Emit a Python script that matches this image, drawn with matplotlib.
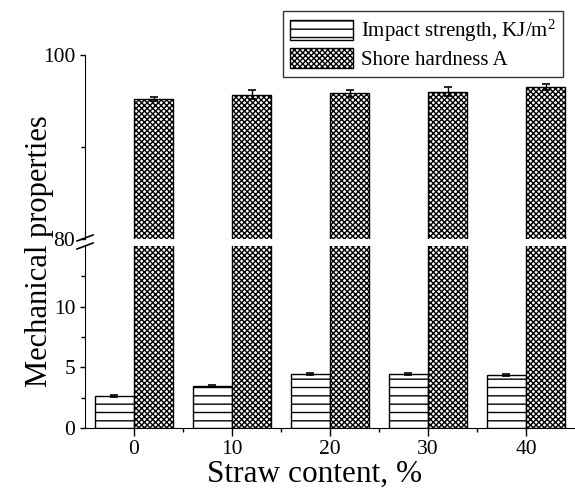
import matplotlib
matplotlib.use("Agg")
import matplotlib.pyplot as plt
from matplotlib.patches import Patch
from matplotlib.lines import Line2D
import numpy as np

plt.rcParams['font.family'] = ['Liberation Serif', 'DejaVu Serif']
plt.rcParams['mathtext.fontset'] = 'custom'
plt.rcParams['mathtext.rm'] = 'Liberation Serif'
plt.rcParams['mathtext.it'] = 'Liberation Serif'
plt.rcParams['hatch.linewidth'] = 1.0

# data
straw = [0, 10, 20, 30, 40]
impact = [2.62, 3.47, 4.42, 4.45, 4.40]
impact_err = [0.08, 0.08, 0.08, 0.08, 0.08]
shore = [95.2, 95.7, 95.85, 96.0, 96.55]
shore_err = [0.2, 0.5, 0.4, 0.5, 0.3]

labels = ['Impact strength, KJ/m$^2$', 'Shore hardness A']

W, H = 575, 493
fig = plt.figure(figsize=(W / 100, H / 100), dpi=100)

left = 85 / W
right = 575 / W
ax_lo = fig.add_axes([left, 1 - 428 / H, right - left, (428 - 246) / H])
ax_hi = fig.add_axes([left, 1 - 239 / H, right - left, (239 - 55) / H])

x = np.array(straw)
bw = 4

def draw(ax):
    ax.bar(x - bw / 2, impact, bw, yerr=impact_err, color='white', edgecolor='black',
           hatch='--', linewidth=1, capsize=3, error_kw=dict(elinewidth=1, capthick=1.2))
    ax.bar(x + bw / 2, shore, bw, yerr=shore_err, color='white', edgecolor='black',
           hatch='xxxxxx', linewidth=1, capsize=3, error_kw=dict(elinewidth=1, capthick=1.2))

draw(ax_lo)
draw(ax_hi)

for ax in (ax_lo, ax_hi):
    ax.set_xlim(-5, 45)
    ax.spines['top'].set_visible(False)
    ax.spines['right'].set_visible(False)
    ax.tick_params(direction='out', labelsize=15.5, width=1)
    ax.tick_params(which='minor', direction='out', width=1, length=3)

ax_lo.set_ylim(0, 15)
ax_lo.set_yticks([0, 5, 10])
ax_lo.set_yticks([2.5, 7.5, 12.5], minor=True)
ax_lo.set_xticks(straw)
ax_lo.set_xticks([5, 15, 25, 35], minor=True)
ax_lo.tick_params(axis='x', length=6, pad=3)

ax_hi.set_ylim(80, 100)
ax_hi.set_yticks([80, 100])
ax_hi.set_yticks([90], minor=True)
ax_hi.spines['bottom'].set_visible(False)
ax_hi.tick_params(axis='x', which='both', bottom=False, labelbottom=False)

# break marks on the y axis
for yb in (241, 249):
    fig.add_artist(Line2D([77 / W, 93 / W], [1 - yb / H, 1 - (yb - 6) / H],
                          color='black', linewidth=1.2))

fig.text(40 / W, 1 - 251 / H, 'Mechanical properties', rotation=90,
         fontsize=22, ha='center', va='center')
fig.text(315 / W, 1 - 482 / H, 'Straw content, %', fontsize=22.5,
         ha='center', va='baseline')

handles = [Patch(facecolor='white', edgecolor='black', hatch='--', label=labels[0]),
           Patch(facecolor='white', edgecolor='black', hatch='xxxxxx', label=labels[1])]
leg = fig.legend(handles=handles, loc='upper right',
                 bbox_to_anchor=(563 / W, 1 - 11 / H), fontsize=15,
                 frameon=True, fancybox=False, edgecolor='black',
                 handlelength=3, handleheight=1.1, handletextpad=0.4,
                 borderpad=0.35, labelspacing=0.15, borderaxespad=0)
leg.get_frame().set_linewidth(1)

fig.savefig('out.png', dpi=100)
